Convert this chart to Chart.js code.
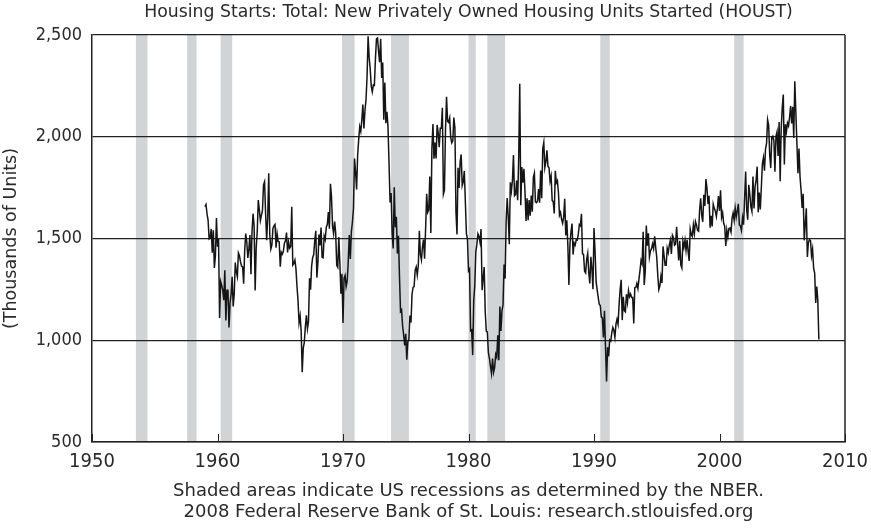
<!DOCTYPE html>
<html>
<head>
<meta charset="utf-8">
<title>Housing Starts (HOUST)</title>
<script src="https://cdn.jsdelivr.net/npm/chart.js@4.4.1/dist/chart.umd.min.js"></script>
<style>
  html, body { margin: 0; padding: 0; background: #fff; }
  canvas { display: block; }
</style>
</head>
<body>
<canvas id="houst" width="871" height="528"></canvas>
<script>
// monthly housing starts, thousands of units (SAAR), Jan 1959 .. Dec 2007
const firstYear = 1959;
const housingStarts = [
  1657, 1667, 1620, 1590, 1498, 1503, 1547, 1430, 1540, 1355, 1416, 1601, // 1959
  1460, 1503, 1109, 1289, 1271, 1247, 1197, 1344, 1097, 1246, 1246, 1063, // 1960
  1183, 1226, 1312, 1166, 1228, 1382, 1335, 1312, 1429, 1415, 1385, 1365, // 1961
  1361, 1278, 1443, 1524, 1483, 1404, 1450, 1517, 1324, 1533, 1622, 1564, // 1962
  1244, 1456, 1534, 1689, 1641, 1588, 1614, 1639, 1763, 1779, 1622, 1491, // 1963
  1603, 1820, 1517, 1448, 1467, 1550, 1562, 1569, 1455, 1524, 1486, 1484, // 1964
  1361, 1433, 1423, 1438, 1478, 1488, 1529, 1432, 1482, 1452, 1460, 1656, // 1965
  1370, 1378, 1394, 1352, 1265, 1194, 1086, 1119, 1046, 843, 961, 990,    // 1966
  1067, 1123, 1056, 1091, 1304, 1248, 1364, 1407, 1421, 1491, 1538, 1308, // 1967
  1380, 1520, 1466, 1554, 1408, 1405, 1512, 1495, 1556, 1569, 1630, 1548, // 1968
  1769, 1705, 1561, 1524, 1583, 1528, 1368, 1358, 1507, 1381, 1229, 1327, // 1969
  1085, 1305, 1319, 1264, 1290, 1385, 1517, 1399, 1534, 1580, 1647, 1893, // 1970
  1828, 1741, 1910, 1986, 2049, 2026, 2083, 2158, 2041, 2128, 2182, 2295, // 1971
  2494, 2390, 2334, 2249, 2221, 2254, 2252, 2382, 2481, 2485, 2421, 2366, // 1972
  2481, 2289, 2365, 2084, 2266, 2067, 2123, 2051, 1874, 1677, 1724, 1526, // 1973
  1451, 1752, 1555, 1607, 1426, 1513, 1316, 1142, 1150, 1070, 1026, 975,  // 1974
  1032, 904, 993, 1005, 1121, 1087, 1226, 1260, 1264, 1344, 1360, 1321,   // 1975
  1367, 1538, 1421, 1395, 1459, 1495, 1401, 1550, 1720, 1629, 1641, 1804, // 1976
  1527, 1943, 2063, 1892, 1971, 1893, 2058, 2020, 1949, 2042, 2042, 2142, // 1977
  1718, 1738, 2032, 2197, 2075, 2070, 2092, 1996, 1970, 1981, 2094, 2044, // 1978
  1630, 1520, 1847, 1748, 1876, 1913, 1760, 1778, 1832, 1681, 1524, 1498, // 1979
  1341, 1350, 1047, 1051, 927, 1196, 1269, 1436, 1471, 1523, 1510, 1482,  // 1980
  1547, 1246, 1306, 1360, 1140, 1045, 1041, 940, 911, 873, 837, 910,      // 1981
  843, 866, 931, 917, 1025, 902, 1166, 1046, 1144, 1173, 1372, 1303,      // 1982
  1586, 1699, 1606, 1472, 1776, 1733, 1785, 1910, 1710, 1715, 1785, 1688, // 1983
  1897, 2260, 1663, 1851, 1774, 1843, 1732, 1586, 1698, 1590, 1689, 1612, // 1984
  1711, 1632, 1800, 1821, 1680, 1676, 1684, 1743, 1676, 1834, 1698, 1942, // 1985
  1972, 1848, 1876, 1933, 1854, 1847, 1782, 1807, 1687, 1681, 1623, 1833, // 1986
  1774, 1784, 1726, 1614, 1628, 1594, 1575, 1605, 1695, 1515, 1589, 1467, // 1987
  1271, 1473, 1532, 1573, 1421, 1478, 1467, 1493, 1492, 1522, 1569, 1563, // 1988
  1621, 1425, 1422, 1339, 1331, 1397, 1427, 1332, 1279, 1410, 1351, 1251, // 1989
  1551, 1437, 1289, 1248, 1212, 1177, 1171, 1115, 1110, 1014, 1145, 969,  // 1990
  798, 965, 921, 1001, 996, 1036, 1063, 1049, 1015, 1079, 1103, 1079,     // 1991
  1176, 1250, 1297, 1099, 1214, 1145, 1139, 1226, 1186, 1244, 1214, 1227, // 1992
  1210, 1210, 1083, 1258, 1260, 1280, 1254, 1300, 1343, 1392, 1376, 1533, // 1993
  1272, 1337, 1564, 1465, 1526, 1409, 1439, 1450, 1474, 1450, 1511, 1455, // 1994
  1407, 1316, 1249, 1267, 1314, 1281, 1461, 1416, 1369, 1369, 1452, 1431, // 1995
  1467, 1491, 1424, 1516, 1504, 1467, 1472, 1557, 1475, 1392, 1489, 1370, // 1996
  1355, 1486, 1457, 1492, 1442, 1494, 1437, 1390, 1546, 1520, 1510, 1566, // 1997
  1525, 1584, 1567, 1540, 1536, 1641, 1698, 1614, 1582, 1715, 1660, 1792, // 1998
  1748, 1670, 1710, 1553, 1611, 1559, 1669, 1648, 1635, 1608, 1648, 1708, // 1999
  1636, 1737, 1604, 1626, 1575, 1559, 1463, 1541, 1507, 1549, 1551, 1532, // 2000
  1600, 1625, 1590, 1649, 1605, 1636, 1670, 1567, 1562, 1540, 1602, 1568, // 2001
  1698, 1829, 1642, 1592, 1764, 1717, 1655, 1633, 1804, 1648, 1753, 1788, // 2002
  1853, 1629, 1726, 1643, 1751, 1867, 1897, 1833, 1939, 1967, 2083, 2057, // 2003
  1911, 1846, 1998, 2003, 1981, 1828, 2002, 2024, 1905, 2072, 1782, 2042, // 2004
  2144, 2207, 1864, 2061, 2025, 2068, 2054, 2095, 2151, 2065, 2147, 1994, // 2005
  2273, 2119, 1969, 1821, 1942, 1802, 1737, 1650, 1720, 1491, 1570, 1649, // 2006
  1409, 1480, 1495, 1490, 1415, 1448, 1354, 1330, 1183, 1264, 1197, 1004  // 2007
];

// NBER recessions as decimal years [start, end]
const recessions = [
  [1953.5, 1954.42], [1957.58, 1958.33], [1960.25, 1961.17],
  [1969.92, 1970.92], [1973.83, 1975.25], [1980.0, 1980.58],
  [1981.5, 1982.92], [1990.5, 1991.25], [2001.17, 2001.92]
];

const xTicks = [1950, 1960, 1970, 1980, 1990, 2000, 2010];
const yTicks = [500, 1000, 1500, 2000, 2500];

const titleText = "Housing Starts: Total: New Privately Owned Housing Units Started (HOUST)";
const noteLines = [
  "Shaded areas indicate US recessions as determined by the NBER.",
  "2008 Federal Reserve Bank of St. Louis: research.stlouisfed.org"
];

const WIDE = "'DejaVu Sans', sans-serif";
const NARROW = "'DejaVu Sans Condensed', 'DejaVu Sans', sans-serif";
const INK = "#2a2a2a";

const points = housingStarts.map((v, i) => ({ x: firstYear + i / 12, y: v }));

// grey recession bands under everything, inward x ticks, right frame, texts
const fredDecor = {
  id: "fredDecor",
  beforeDraw(chart) {
    const { ctx, chartArea: a, scales: { x } } = chart;
    ctx.save();
    ctx.fillStyle = "#d2d3d5";
    recessions.forEach(([s, e]) => {
      const x0 = x.getPixelForValue(s);
      const x1 = x.getPixelForValue(e);
      ctx.fillRect(x0, a.top, x1 - x0, a.bottom - a.top);
    });
    ctx.restore();
  },
  afterDraw(chart) {
    const { ctx, chartArea: a, scales: { x } } = chart;
    ctx.save();
    ctx.strokeStyle = "#222";
    ctx.lineWidth = 1.5;
    ctx.beginPath();
    ctx.moveTo(a.right, a.top);
    ctx.lineTo(a.right, a.bottom);
    ctx.stroke();
    ctx.lineWidth = 1;
    xTicks.forEach((t) => {
      const px = Math.round(x.getPixelForValue(t)) + 0.5;
      ctx.beginPath();
      ctx.moveTo(px, a.bottom);
      ctx.lineTo(px, a.bottom - 8);
      ctx.stroke();
    });

    ctx.fillStyle = INK;
    ctx.textAlign = "center";
    ctx.textBaseline = "middle";
    const cx = (a.left + a.right) / 2;
    ctx.font = "17.3px " + WIDE;
    ctx.fillText(titleText, cx, 13);
    ctx.font = "18px " + WIDE;
    ctx.fillText(noteLines[0], cx, 491);
    ctx.fillText(noteLines[1], cx, 512);
    ctx.restore();
  }
};

new Chart(document.getElementById("houst"), {
  type: "line",
  data: {
    datasets: [{
      label: "HOUST",
      data: points,
      borderColor: "#151515",
      borderWidth: 1.5,
      pointRadius: 0,
      tension: 0,
      fill: false
    }]
  },
  options: {
    responsive: false,
    animation: false,
    layout: { padding: { top: 35, right: 26, bottom: 0, left: 0 } },
    plugins: {
      legend: { display: false },
      tooltip: { enabled: false }
    },
    scales: {
      x: {
        type: "linear",
        min: 1950,
        max: 2010,
        afterBuildTicks: (scale) => { scale.ticks = xTicks.map((v) => ({ value: v })); },
        afterFit: (scale) => {
          scale.height = 86;
          scale.paddingLeft = 0;
          scale.paddingRight = 0;
        },
        grid: { display: false, drawTicks: false },
        border: { display: true, color: "#222", width: 1.5 },
        ticks: {
          color: INK,
          font: { family: NARROW, size: 20 },
          padding: 8,
          maxRotation: 0,
          callback: (v) => String(v)
        }
      },
      y: {
        min: 500,
        max: 2500,
        afterBuildTicks: (scale) => { scale.ticks = yTicks.map((v) => ({ value: v })); },
        afterFit: (scale) => { scale.width = 92; },
        grid: { color: "#222", lineWidth: 1.3, drawTicks: false },
        border: { display: true, color: "#222", width: 1.5 },
        ticks: {
          color: INK,
          font: { family: NARROW, size: 18 },
          padding: 10,
          callback: (v) => v.toLocaleString("en-US")
        },
        title: {
          display: true,
          text: "(Thousands of Units)",
          color: INK,
          font: { family: WIDE, size: 17.5 },
          padding: { top: 1, bottom: 0 }
        }
      }
    }
  },
  plugins: [fredDecor]
});
</script>
</body>
</html>
